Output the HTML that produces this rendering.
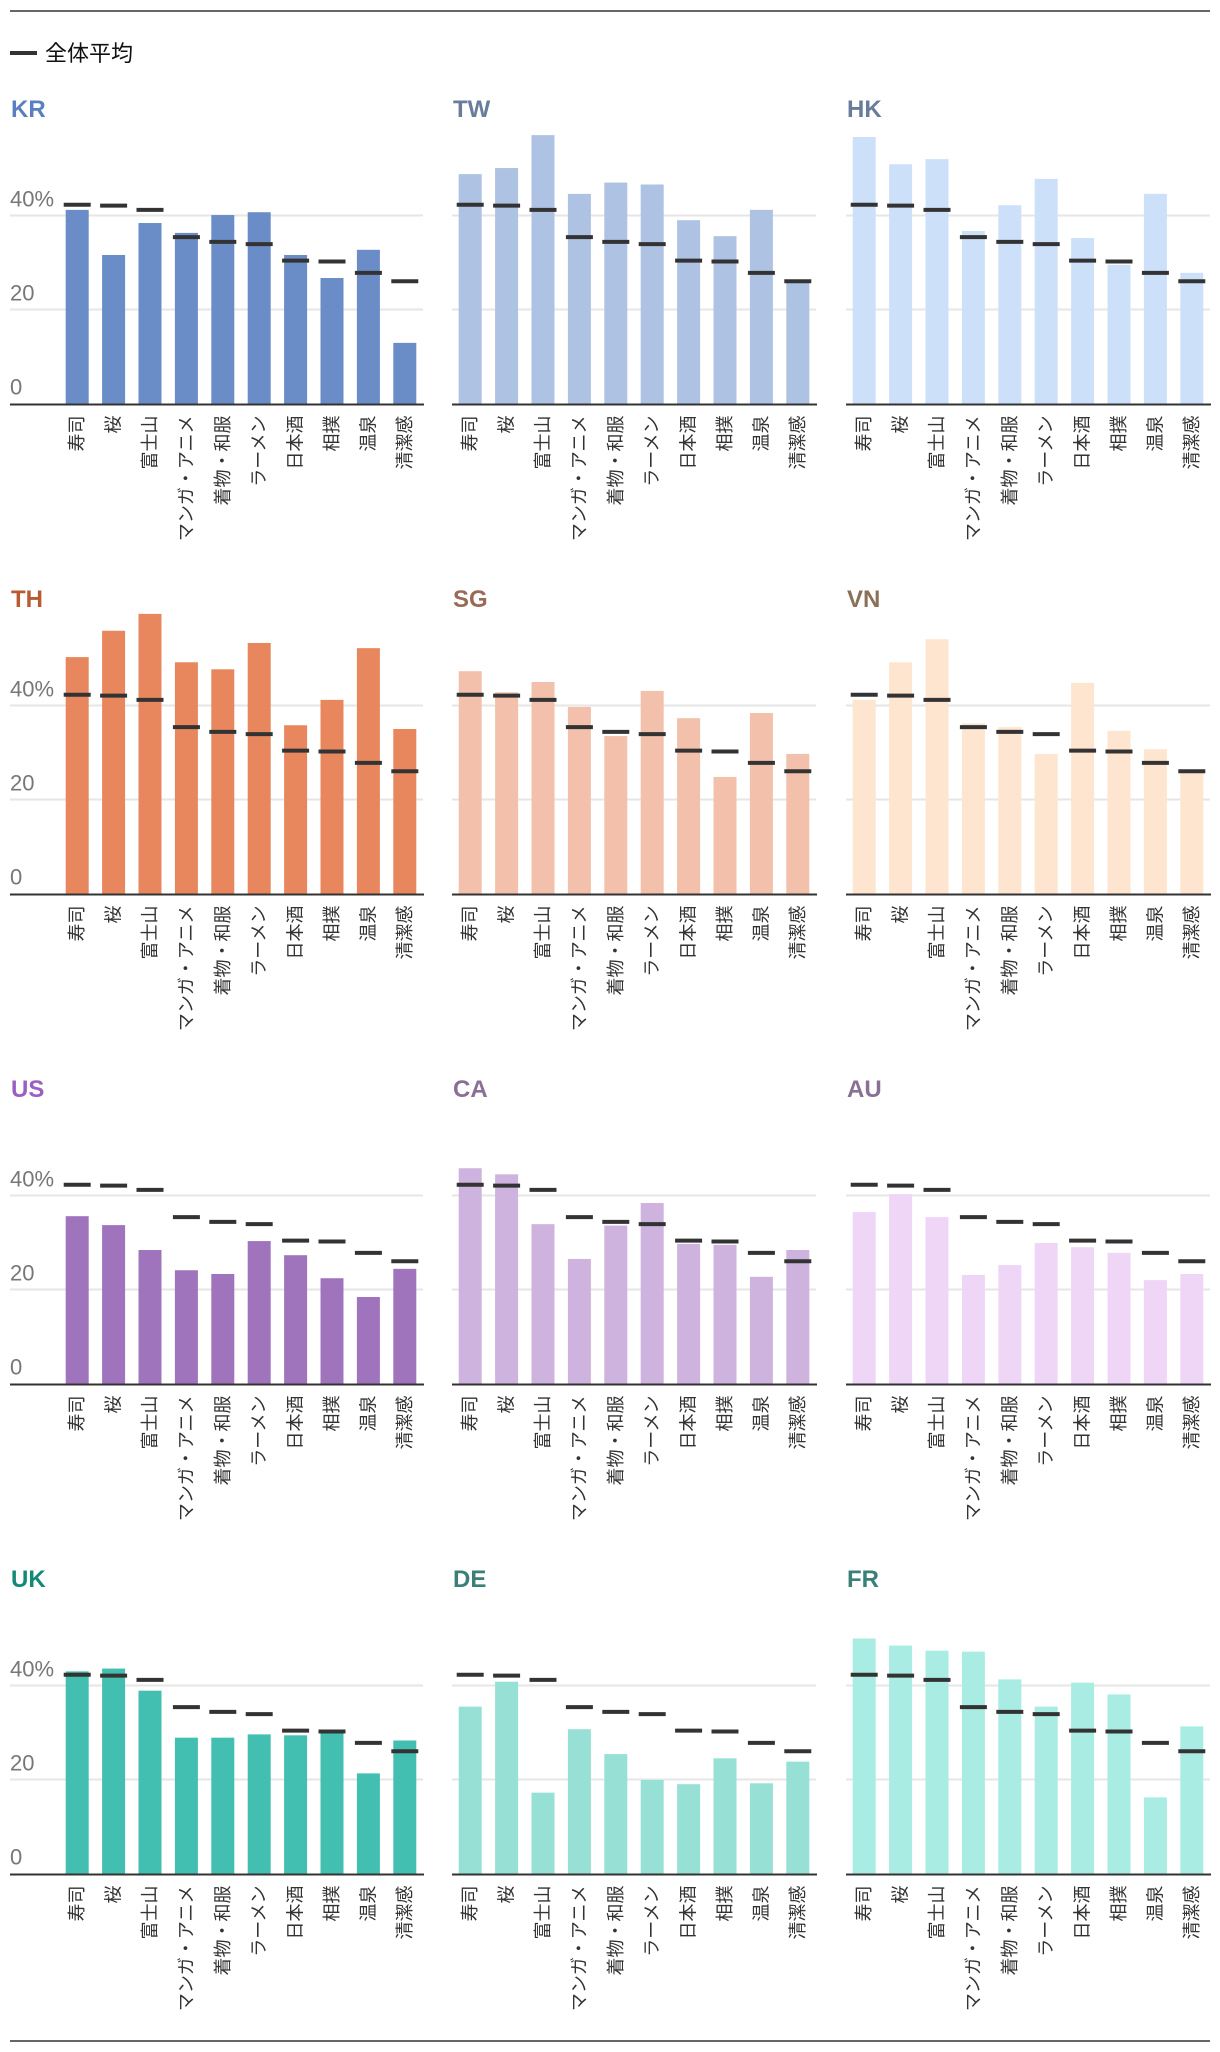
<!DOCTYPE html>
<html><head><meta charset="utf-8">
<style>
html,body{margin:0;padding:0;background:#fff;}
svg{display:block;font-family:"Liberation Sans","Noto Sans CJK JP",sans-serif;}
</style></head>
<body>
<svg id="chart" width="1220" height="2052" viewBox="0 0 1220 2052" xmlns="http://www.w3.org/2000/svg">
<line x1="10" y1="11" x2="1210" y2="11" stroke="#666" stroke-width="2"/>
<line x1="10" y1="2041" x2="1210" y2="2041" stroke="#666" stroke-width="2"/>
<g>
<line x1="10" y1="53" x2="37" y2="53" stroke="#333" stroke-width="4"/>
<text x="45" y="61" font-size="22" fill="#111">全体平均</text>
</g>
</svg>
<script>
const categories = ["寿司","桜","富士山","マンガ・アニメ","着物・和服","ラーメン","日本酒","相撲","温泉","清潔感"];
const average = [42.3,42.1,41.2,35.4,34.4,33.9,30.4,30.2,27.8,26.0];
const countries = ["KR","TW","HK","TH","SG","VN","US","CA","AU","UK","DE","FR"];
const valuesKR = [41.2,31.6,38.4,36.3,40.1,40.7,31.6,26.7,32.7,12.9];
const valuesTW = [48.8,50.1,57.1,44.6,47.0,46.6,39.0,35.6,41.2,25.8];
const valuesHK = [56.7,50.9,52.0,36.7,42.2,47.8,35.2,29.5,44.6,27.8];
const valuesTH = [50.3,55.9,59.5,49.2,47.7,53.3,35.8,41.2,52.2,35.0];
const valuesSG = [47.3,42.8,45.0,39.7,33.5,43.1,37.3,24.8,38.4,29.7];
const valuesVN = [41.2,49.2,54.1,36.2,35.4,29.7,44.8,34.6,30.7,25.9];
const valuesUS = [35.6,33.7,28.4,24.1,23.3,30.3,27.3,22.4,18.4,24.4];
const valuesCA = [45.8,44.5,33.9,26.5,33.6,38.4,29.7,29.5,22.7,28.4];
const valuesAU = [36.5,40.3,35.4,23.1,25.2,29.9,29.0,27.8,22.0,23.3];
const valuesUK = [43.0,43.6,38.9,28.9,28.9,29.6,29.4,30.2,21.3,28.3];
const valuesDE = [35.5,40.8,17.2,30.7,25.4,19.9,19.0,24.5,19.2,23.8];
const valuesFR = [50.0,48.5,47.4,47.2,41.3,35.5,40.6,38.1,16.2,31.3];
const yTicks = [0,20,40];
const yTickLabels = ["0","20","40%"];

const seriesMap = {KR:valuesKR,TW:valuesTW,HK:valuesHK,TH:valuesTH,SG:valuesSG,VN:valuesVN,US:valuesUS,CA:valuesCA,AU:valuesAU,UK:valuesUK,DE:valuesDE,FR:valuesFR};
const barColors = {KR:"#6a8dc8",TW:"#aec2e3",HK:"#cde0f9",TH:"#e8875e",SG:"#f3c1ab",VN:"#fde5cf",US:"#a074bd",CA:"#cdb3dd",AU:"#efd6f7",UK:"#42bfb0",DE:"#97e0d5",FR:"#a8ece3"};
const labelColors = {KR:"#5a7fc0",TW:"#687c9c",HK:"#687c9c",TH:"#b85a32",SG:"#9a6a55",VN:"#8a7058",US:"#9a5fc0",CA:"#8a7095",AU:"#8a7095",UK:"#138a78",DE:"#3a8078",FR:"#3a8078"};

const NS = "http://www.w3.org/2000/svg";
const svg = document.getElementById("chart");
const plotLefts = [59,452,846];
const plotW = 364;
const band = plotW/10;
const barW = 23;
const pxPerPct = 4.7;
function mk(tag, attrs){const e=document.createElementNS(NS,tag);for(const k in attrs)e.setAttribute(k,attrs[k]);return e;}
function xCenter(col,i){return plotLefts[col]+band*i+band/2;}
function yScale(row,v){return 403.5+490*row - v*pxPerPct;}

countries.forEach((c,idx)=>{
  const row=Math.floor(idx/3), col=idx%3;
  const g=mk("g",{});
  
  
  svg.appendChild(g);
  const base=yScale(row,0);
  const gl = col===0?10:plotLefts[col];
  const t=mk("text",{x:col===0?11:plotLefts[col]+1,y:117+490*row,"font-size":24,"font-weight":"bold",fill:labelColors[c]});
  t.textContent=c;
  
  
  g.appendChild(t);
  yTicks.forEach((tv,ti)=>{
    if(tv>0){
      const l=mk("line",{x1:gl,x2:plotLefts[col]+plotW,y1:yScale(row,tv),y2:yScale(row,tv),stroke:"#e6e6e6","stroke-width":2});
      
      
      g.appendChild(l);
    }
    if(col===0){
      const tl=mk("text",{x:10,y:yScale(row,tv)-9,"font-size":22,fill:"#777"});
      tl.textContent=yTickLabels[ti];
      
      
      g.appendChild(tl);
    }
  });
  const vals=seriesMap[c];
  vals.forEach((v,i)=>{
    const r=mk("rect",{x:xCenter(col,i)-barW/2,y:yScale(row,v),width:barW,height:base-yScale(row,v),fill:barColors[c]});
    
    
    g.appendChild(r);
  });
  average.forEach((v,i)=>{
    const m=mk("line",{x1:xCenter(col,i)-13.5,x2:xCenter(col,i)+13.5,y1:yScale(row,v),y2:yScale(row,v),stroke:"#333","stroke-width":4});
    
    
    g.appendChild(m);
  });
  const ax=mk("line",{x1:gl,x2:plotLefts[col]+plotW+1,y1:base+1,y2:base+1,stroke:"#333","stroke-width":2});
  
  
  g.appendChild(ax);
  categories.forEach((cat,i)=>{
    const x=xCenter(col,i)+6, y=base+12;
    const tx=mk("text",{x:x,y:y,"font-size":18,fill:"#333","text-anchor":"end",transform:"rotate(-90 "+x+" "+y+")"});
    tx.textContent=cat;
    
    
    g.appendChild(tx);
  });
});
</script>
</body></html>
